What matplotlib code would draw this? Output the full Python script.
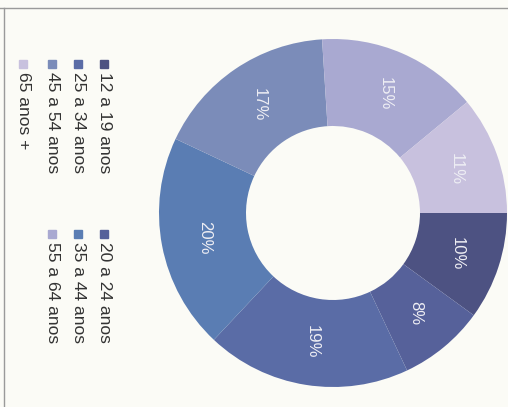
import numpy as np
import matplotlib
matplotlib.use('Agg')
import matplotlib.pyplot as plt
from matplotlib.patches import Rectangle
from matplotlib.lines import Line2D

plt.rcParams['font.family'] = ['Liberation Sans', 'DejaVu Sans']

# Faixa etaria (chart is printed rotated 90 degrees clockwise)
labels = ['12 a 19 anos', '20 a 24 anos', '25 a 34 anos', '35 a 44 anos',
          '45 a 54 anos', '55 a 64 anos', '65 anos +']
shares = [10, 8, 19, 20, 17, 15, 11]
colors = ['#4d5282', '#56619a', '#5a6ca6', '#5a7db3', '#7b8cb9', '#a9a9d1', '#c8c1de']

W, H = 508, 407
fig = plt.figure(figsize=(W / 100, H / 100), dpi=100)
fig.patch.set_facecolor('#fbfbf6')

# donut: centre ~ (333, 213) px, radius ~174 px
cx, cy, r = 333, 213, 174
ax = fig.add_axes([(cx - r) / W, (H - cy - r) / H, 2 * r / W, 2 * r / H])
wedges, texts, autotexts = ax.pie(
    shares, colors=colors, startangle=0, counterclock=False,
    wedgeprops=dict(width=0.5, edgecolor='none'),
    autopct='%d%%', pctdistance=0.75,
    textprops=dict(color='#eeeef4', fontsize=12, rotation=270,
                   ha='center', va='center'))
ax.set_xlim(-1, 1)
ax.set_ylim(-1, 1)
ax.set_aspect('equal')
ax.axis('off')

# legend, two entries per column, read top-to-bottom
col_x = [104, 78, 52, 23]
row_y = [60, 230]
for i, (lab, c) in enumerate(zip(labels, colors)):
    x = col_x[i // 2]
    y = row_y[i % 2]
    fig.patches.append(Rectangle(((x - 4) / W, (H - y - 8) / H), 8 / W, 8 / H,
                                 transform=fig.transFigure, color=c))
    fig.text(x / W, (H - y - 12) / H, lab, rotation=270, ha='center', va='top',
             fontsize=12.5, color='#333333')

# frame lines
fig.add_artist(Line2D([0, 1], [(H - 8) / H] * 2, transform=fig.transFigure,
                      color='#9a9a9a', lw=1))
fig.add_artist(Line2D([4 / W] * 2, [0, (H - 8) / H], transform=fig.transFigure,
                      color='#9a9a9a', lw=1))

fig.savefig('out.png', dpi=100, facecolor=fig.get_facecolor())
